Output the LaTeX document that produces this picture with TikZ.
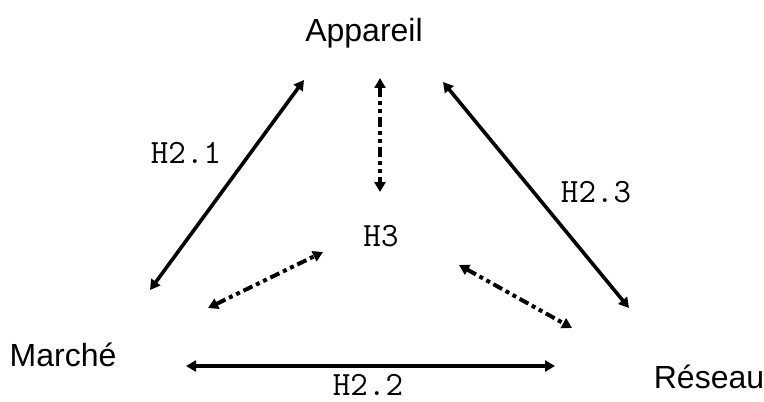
\documentclass[tikz,border=0pt]{standalone}
\usepackage{fontspec}
\setmainfont{Liberation Sans}
\usepackage{tikz}
\usetikzlibrary{arrows.meta, positioning}

\begin{document}
\begin{tikzpicture}[x=0.5pt, y=-0.5pt,
  actor/.style={font=\fontsize{16}{19}\selectfont, inner sep=0pt},
  hyp/.style={font=\ttfamily\fontsize{17}{20}\selectfont, inner sep=0pt},
  link/.style={line width=1.8pt, {Triangle[length=5pt,width=5.5pt]}-{Triangle[length=5pt,width=5.5pt]}},
  dlink/.style={link, line width=2pt, dash pattern=on 5pt off 2pt on 2pt off 2pt on 2pt off 2pt}]
  \useasboundingbox (0,0) rectangle (764,401);
  % Actors
  \node[actor] (app) at (364,33) {Appareil};
  \node[actor] (mar) at (63,355) {Marché};
  \node[actor] (res) at (709,377) {Réseau};
  \node[hyp] (h3) at (381,236) {H3};
  % Arrow end points
  \foreach \n/\x/\y in {a1/150/290, a2/304/80, b1/443/82, b2/629/308, c1/186/366, c2/555/366,
                        d1/380/78, d2/380/192, e1/208/308, e2/323/252, f1/459/265, f2/572/328} {
    \coordinate (\n) at (\x,\y);
  }
  % Direct links
  \draw[link] (a1) -- (a2);
  \draw[link] (b1) -- (b2);
  \draw[link] (c1) -- (c2);
  \node[hyp] (h21) at (186,153) {H2.1};
  \node[hyp] (h23) at (596,192) {H2.3};
  \node[hyp] (h22) at (368,385) {H2.2};
  % Links to H3
  \draw[dlink] (d1) -- (d2);
  \draw[dlink] (e1) -- (e2);
  \draw[dlink] (f1) -- (f2);
\end{tikzpicture}
\end{document}
